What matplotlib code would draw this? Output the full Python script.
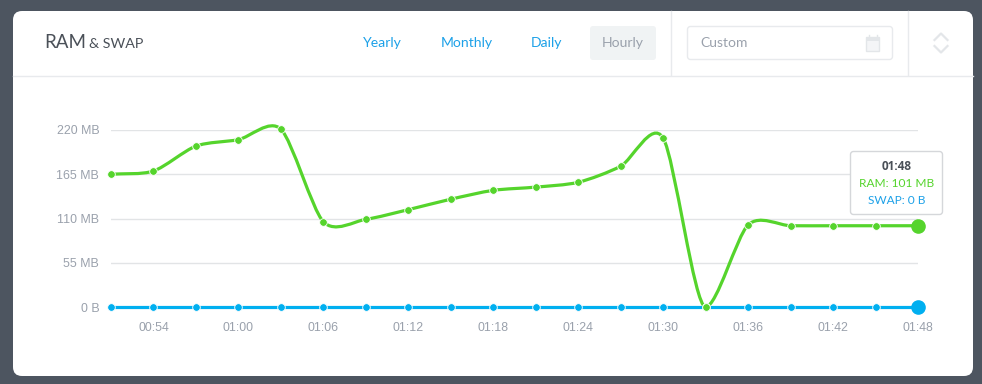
import numpy as np
import matplotlib
matplotlib.use('Agg')
import matplotlib.pyplot as plt
from matplotlib.patches import FancyBboxPatch, PathPatch, Rectangle
from matplotlib.path import Path

plt.rcParams['font.family'] = ['Open Sans', 'DejaVu Sans']

# dados, um ponto a cada 3 minutos
minutos = list(range(0, 60, 3))
ram = [165, 169, 200, 208, 221, 106, 109, 121, 134, 145, 149, 155, 175, 210, 0, 102, 101, 101, 101, 101]
swap = [0] * 20
yticks = [0, 55, 110, 165, 220]
ylabels = ['0 B', '55 MB', '110 MB', '165 MB', '220 MB']
xticks = [3, 9, 15, 21, 27, 33, 39, 45, 51, 57]
xlabels = ['00:54', '01:00', '01:06', '01:12', '01:18', '01:24', '01:30', '01:36', '01:42', '01:48']
botoes = ['Yearly', 'Monthly', 'Daily', 'Hourly']

W, H = 982, 384
VERDE = '#55d42c'
AZUL = '#00aff0'
CINZA = '#9aa1ac'
LINK = '#1da1e8'
BORDA = '#e8eaed'


def curva(x, y):
    # spline com tangente central, sem passar abaixo de zero
    x = np.asarray(x, float)
    y = np.asarray(y, float)
    verts = [(x[0], y[0])]
    codes = [Path.MOVETO]
    d = (x[1] - x[0]) * 0.27
    m = np.gradient(y, x)
    m[y == 0] = 0
    for i in range(len(x) - 1):
        verts += [(x[i] + d, y[i] + m[i] * d), (x[i + 1] - d, y[i + 1] - m[i + 1] * d), (x[i + 1], y[i + 1])]
        codes += [Path.CURVE4] * 3
    return Path(verts, codes)


fig = plt.figure(figsize=(W / 100, H / 100), dpi=100, facecolor='#4d5560')

# fundo em pixels para o cartão e o cabeçalho
bg = fig.add_axes([0, 0, 1, 1])
bg.set_xlim(0, W)
bg.set_ylim(H, 0)
bg.axis('off')
bg.add_patch(FancyBboxPatch((13, 11), 960, 365, boxstyle='round,pad=0,rounding_size=9', fc='white', ec='none'))
bg.plot([13, 973], [75.5, 75.5], color=BORDA, lw=1)
bg.plot([671.5, 671.5], [11, 75], color=BORDA, lw=1)
bg.plot([908.5, 908.5], [11, 75], color=BORDA, lw=1)
bg.text(44, 43, 'RAM', fontsize=13.5, color='#4a5058', va='center', family=['Lato', 'DejaVu Sans'])
bg.text(89, 44, '& SWAP', fontsize=10.3, color='#4a5058', va='center', family=['Lato', 'DejaVu Sans'])
for nome, cx in zip(botoes, [382.5, 466.5, 547, 623]):
    cor = CINZA if nome == 'Hourly' else LINK
    if nome == 'Hourly':
        bg.add_patch(FancyBboxPatch((590, 26), 66, 34, boxstyle='round,pad=0,rounding_size=3', fc='#f0f3f4', ec='none'))
    bg.text(cx, 43, nome, fontsize=10.1, color=cor, ha='center', va='center', family=['Lato', 'DejaVu Sans'])
bg.add_patch(FancyBboxPatch((687.5, 26.5), 205, 33, boxstyle='round,pad=0,rounding_size=3', fc='white', ec=BORDA, lw=1))
bg.text(700, 43, 'Custom', fontsize=10, color=CINZA, va='center', family=['Lato', 'DejaVu Sans'])
# icone do calendario
bg.add_patch(Rectangle((866.5, 36.5), 13, 14, fc='#f4f5f7', ec='#e3e6e9', lw=1))
bg.add_patch(Rectangle((866.5, 36.5), 13, 4, fc='#e3e6e9', ec='none'))
bg.plot([869, 869], [35, 37], color='#e3e6e9', lw=1)
bg.plot([877, 877], [35, 37], color='#e3e6e9', lw=1)
# setas
bg.plot([934.5, 941, 947.5], [40, 33.5, 40], color='#e3e6e9', lw=1.6)
bg.plot([934.5, 941, 947.5], [46, 52.5, 46], color='#e3e6e9', lw=1.6)

# area do grafico: x 111..918, y 307..130
ax = fig.add_axes([111 / W, 1 - 307 / H, (918 - 111) / W, (307 - 130) / H])
ax.patch.set_alpha(0)
ax.set_xlim(0, 57)
ax.set_ylim(0, 220)
for s in ax.spines.values():
    s.set_visible(False)
ax.set_yticks(yticks)
ax.set_yticklabels(ylabels)
ax.set_xticks(xticks)
ax.set_xticklabels(xlabels)
ax.tick_params(length=0, labelsize=8.9, labelcolor=CINZA, labelfontfamily='Liberation Sans')
ax.tick_params(axis='y', pad=8.5)
ax.tick_params(axis='x', pad=10.5)
ax.grid(axis='y', color='#e2e4e6', lw=1)
ax.set_axisbelow(True)

ax.add_patch(PathPatch(curva(minutos, ram), fc='none', ec=VERDE, lw=2.3, clip_on=False, zorder=3))
ax.plot(minutos[:-1], ram[:-1], 'o', color=VERDE, ms=5.5, mec='white', mew=0.6, clip_on=False, zorder=4)
ax.plot(minutos[-1], ram[-1], 'o', color=VERDE, ms=9.5, clip_on=False, zorder=4)
ax.plot(minutos, swap, color=AZUL, lw=2.3, clip_on=False, zorder=5)
ax.plot(minutos[:-1], swap[:-1], 'o', color=AZUL, ms=5.5, mec='white', mew=0.6, clip_on=False, zorder=6)
ax.plot(minutos[14], ram[14], 'o', color=VERDE, ms=5.5, mec='white', mew=0.6, clip_on=False, zorder=7)
ax.plot(minutos[-1], swap[-1], 'o', color=AZUL, ms=9.5, clip_on=False, zorder=6)

# tooltip
tip = fig.add_axes([0, 0, 1, 1])
tip.set_xlim(0, W)
tip.set_ylim(H, 0)
tip.axis('off')
tip.add_patch(FancyBboxPatch((850.5, 151.5), 92, 63, boxstyle='round,pad=0,rounding_size=3', fc='white', ec='#d5d7da', lw=1))
tip.text(896.5, 166.5, xlabels[-1], fontsize=8.5, fontweight='bold', color='#4a5058', ha='center', va='center', family=['Open Sans', 'DejaVu Sans'])
tip.text(896.5, 183.5, f'RAM: {ram[-1]} MB', fontsize=8.6, color=VERDE, ha='center', va='center', family=['Lato', 'DejaVu Sans'])
tip.text(896.5, 200.5, f'SWAP: {swap[-1]} B', fontsize=8.6, color=LINK, ha='center', va='center', family=['Lato', 'DejaVu Sans'])

fig.savefig('out.png', dpi=100, facecolor=fig.get_facecolor())
